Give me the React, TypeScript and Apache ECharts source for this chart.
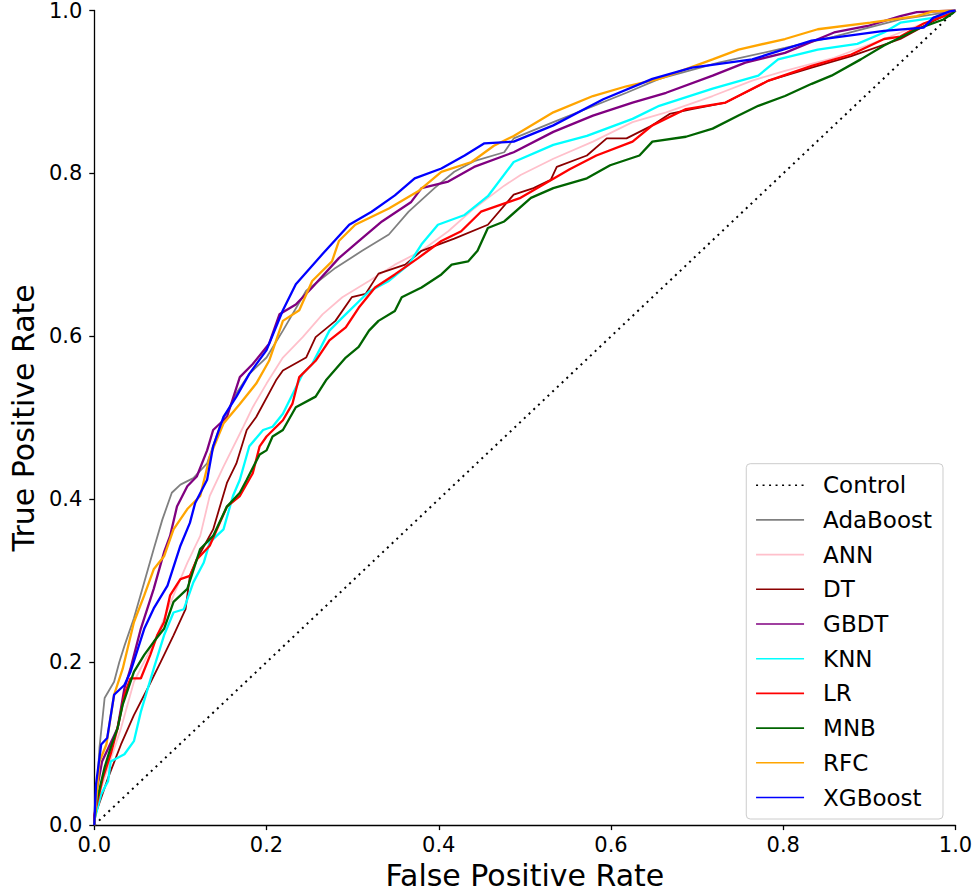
import React, { useEffect, useRef } from "react";
import * as echarts from "echarts";

const controlFpr = [0, 1];
const controlTpr = [0, 1];

const adaFpr = [0, 0.004, 0.006, 0.012, 0.023, 0.029, 0.035, 0.046, 0.058, 0.069, 0.079, 0.09, 0.1, 0.115, 0.131, 0.146, 0.165, 0.18, 0.2, 0.219, 0.246, 0.28, 0.311, 0.342, 0.365, 0.395, 0.418, 0.441, 0.476, 0.487, 0.533, 0.618, 0.656, 0.725, 0.802, 0.859, 0.936, 0.997, 1];
const adaTpr = [0, 0.06, 0.095, 0.156, 0.176, 0.2, 0.22, 0.254, 0.298, 0.339, 0.375, 0.408, 0.418, 0.426, 0.444, 0.49, 0.53, 0.554, 0.574, 0.607, 0.656, 0.684, 0.705, 0.725, 0.753, 0.782, 0.802, 0.815, 0.826, 0.843, 0.863, 0.899, 0.916, 0.936, 0.954, 0.968, 0.989, 0.999, 1];

const annFpr = [0, 0.002, 0.016, 0.031, 0.046, 0.062, 0.073, 0.092, 0.108, 0.123, 0.134, 0.15, 0.173, 0.184, 0.2, 0.219, 0.242, 0.265, 0.288, 0.319, 0.349, 0.38, 0.411, 0.441, 0.476, 0.495, 0.533, 0.579, 0.625, 0.664, 0.718, 0.764, 0.802, 0.859, 0.917, 0.955, 0.993, 1];
const annTpr = [0, 0.026, 0.071, 0.119, 0.176, 0.209, 0.233, 0.282, 0.322, 0.355, 0.404, 0.44, 0.489, 0.513, 0.542, 0.574, 0.599, 0.627, 0.648, 0.668, 0.688, 0.705, 0.729, 0.757, 0.785, 0.798, 0.818, 0.839, 0.863, 0.875, 0.895, 0.914, 0.926, 0.942, 0.965, 0.981, 0.995, 1];

const dtFpr = [0, 0, 0.016, 0.031, 0.046, 0.062, 0.077, 0.092, 0.106, 0.111, 0.119, 0.138, 0.154, 0.165, 0.177, 0.188, 0.211, 0.219, 0.246, 0.257, 0.28, 0.299, 0.315, 0.33, 0.361, 0.38, 0.418, 0.457, 0.487, 0.51, 0.53, 0.537, 0.572, 0.595, 0.618, 0.648, 0.668, 0.694, 0.733, 0.783, 0.833, 0.879, 0.936, 0.974, 1];
const dtTpr = [0, 0.009, 0.058, 0.099, 0.135, 0.168, 0.2, 0.233, 0.265, 0.306, 0.326, 0.363, 0.42, 0.444, 0.485, 0.501, 0.546, 0.558, 0.574, 0.599, 0.619, 0.648, 0.652, 0.677, 0.688, 0.705, 0.72, 0.737, 0.774, 0.782, 0.792, 0.808, 0.822, 0.843, 0.843, 0.859, 0.873, 0.879, 0.887, 0.914, 0.93, 0.944, 0.965, 0.987, 1];

const gbdtFpr = [0, 0.002, 0.009, 0.027, 0.035, 0.042, 0.054, 0.069, 0.081, 0.088, 0.096, 0.108, 0.119, 0.131, 0.138, 0.154, 0.169, 0.184, 0.203, 0.215, 0.234, 0.253, 0.284, 0.307, 0.334, 0.368, 0.38, 0.411, 0.441, 0.487, 0.533, 0.579, 0.625, 0.664, 0.718, 0.756, 0.802, 0.859, 0.898, 0.936, 0.955, 1];
const gbdtTpr = [0, 0.038, 0.078, 0.119, 0.168, 0.192, 0.241, 0.29, 0.335, 0.355, 0.391, 0.416, 0.428, 0.46, 0.485, 0.501, 0.55, 0.566, 0.591, 0.627, 0.639, 0.66, 0.696, 0.717, 0.741, 0.765, 0.782, 0.79, 0.808, 0.826, 0.851, 0.871, 0.887, 0.899, 0.92, 0.936, 0.948, 0.973, 0.981, 0.993, 0.998, 1];

const knnFpr = [0, 0, 0.008, 0.016, 0.019, 0.035, 0.046, 0.054, 0.069, 0.081, 0.092, 0.104, 0.115, 0.127, 0.134, 0.15, 0.161, 0.169, 0.18, 0.196, 0.207, 0.219, 0.242, 0.253, 0.273, 0.288, 0.319, 0.342, 0.365, 0.38, 0.399, 0.43, 0.457, 0.487, 0.533, 0.572, 0.625, 0.656, 0.718, 0.771, 0.794, 0.84, 0.886, 0.917, 0.936, 0.974, 0.997, 1];
const knnTpr = [0, 0.006, 0.038, 0.054, 0.078, 0.087, 0.103, 0.139, 0.192, 0.233, 0.261, 0.265, 0.298, 0.322, 0.347, 0.363, 0.404, 0.424, 0.465, 0.485, 0.489, 0.505, 0.554, 0.566, 0.607, 0.623, 0.655, 0.668, 0.688, 0.713, 0.737, 0.749, 0.772, 0.814, 0.835, 0.846, 0.867, 0.883, 0.904, 0.92, 0.94, 0.952, 0.959, 0.973, 0.985, 0.991, 0.997, 1];

const lrFpr = [0, 0, 0.01, 0.019, 0.027, 0.035, 0.042, 0.054, 0.065, 0.073, 0.081, 0.088, 0.1, 0.111, 0.119, 0.134, 0.154, 0.169, 0.184, 0.192, 0.2, 0.219, 0.23, 0.238, 0.257, 0.273, 0.292, 0.307, 0.326, 0.349, 0.376, 0.403, 0.426, 0.449, 0.495, 0.552, 0.583, 0.625, 0.648, 0.687, 0.733, 0.783, 0.833, 0.879, 0.917, 0.936, 0.963, 0.997, 1];
const lrTpr = [0, 0.012, 0.058, 0.087, 0.119, 0.16, 0.18, 0.18, 0.209, 0.233, 0.249, 0.282, 0.302, 0.306, 0.326, 0.343, 0.391, 0.404, 0.432, 0.465, 0.477, 0.497, 0.517, 0.55, 0.57, 0.595, 0.611, 0.635, 0.66, 0.676, 0.696, 0.717, 0.729, 0.753, 0.77, 0.805, 0.822, 0.839, 0.859, 0.879, 0.887, 0.914, 0.932, 0.946, 0.965, 0.968, 0.984, 0.997, 1];

const mnbFpr = [0, 0.002, 0.012, 0.019, 0.027, 0.033, 0.046, 0.058, 0.069, 0.081, 0.092, 0.108, 0.123, 0.138, 0.154, 0.169, 0.177, 0.192, 0.2, 0.207, 0.219, 0.234, 0.257, 0.269, 0.292, 0.307, 0.319, 0.33, 0.349, 0.357, 0.38, 0.403, 0.415, 0.434, 0.445, 0.457, 0.476, 0.507, 0.533, 0.572, 0.599, 0.633, 0.648, 0.687, 0.718, 0.748, 0.771, 0.802, 0.833, 0.856, 0.89, 0.917, 0.955, 0.986, 0.997, 1];
const mnbTpr = [0, 0.026, 0.071, 0.095, 0.119, 0.148, 0.188, 0.209, 0.225, 0.241, 0.274, 0.29, 0.339, 0.355, 0.391, 0.408, 0.424, 0.455, 0.46, 0.477, 0.485, 0.513, 0.526, 0.546, 0.574, 0.587, 0.607, 0.619, 0.631, 0.648, 0.66, 0.676, 0.688, 0.692, 0.705, 0.733, 0.741, 0.77, 0.782, 0.794, 0.81, 0.822, 0.839, 0.845, 0.855, 0.871, 0.883, 0.895, 0.91, 0.92, 0.94, 0.957, 0.977, 0.989, 0.997, 1];

const rfcFpr = [0, 0.002, 0.006, 0.014, 0.023, 0.033, 0.046, 0.058, 0.069, 0.081, 0.092, 0.108, 0.123, 0.134, 0.15, 0.169, 0.188, 0.203, 0.219, 0.238, 0.253, 0.276, 0.284, 0.303, 0.342, 0.376, 0.403, 0.438, 0.464, 0.487, 0.533, 0.579, 0.618, 0.656, 0.718, 0.748, 0.802, 0.84, 0.901, 0.955, 0.974, 1];
const rfcTpr = [0, 0.026, 0.078, 0.099, 0.16, 0.192, 0.249, 0.282, 0.314, 0.33, 0.363, 0.388, 0.404, 0.452, 0.493, 0.517, 0.542, 0.57, 0.619, 0.632, 0.668, 0.692, 0.717, 0.737, 0.757, 0.778, 0.802, 0.814, 0.834, 0.846, 0.875, 0.895, 0.907, 0.916, 0.94, 0.952, 0.965, 0.977, 0.985, 0.993, 0.999, 1];

const xgbFpr = [0, 0.002, 0.008, 0.015, 0.023, 0.035, 0.042, 0.058, 0.069, 0.085, 0.1, 0.111, 0.117, 0.131, 0.138, 0.15, 0.165, 0.18, 0.2, 0.219, 0.234, 0.265, 0.296, 0.322, 0.349, 0.372, 0.403, 0.43, 0.453, 0.487, 0.533, 0.591, 0.648, 0.694, 0.764, 0.833, 0.917, 0.963, 0.974, 0.993, 1];
const xgbTpr = [0, 0.05, 0.099, 0.107, 0.16, 0.172, 0.188, 0.241, 0.266, 0.294, 0.343, 0.371, 0.395, 0.424, 0.465, 0.501, 0.526, 0.554, 0.583, 0.632, 0.664, 0.701, 0.737, 0.753, 0.773, 0.794, 0.806, 0.822, 0.837, 0.839, 0.859, 0.891, 0.916, 0.93, 0.94, 0.963, 0.975, 0.979, 0.991, 0.999, 1];

const modelNames = ["AdaBoost", "ANN", "DT", "GBDT", "KNN", "LR", "MNB", "RFC", "XGBoost"];
const modelColors = ["#808080", "#FFC0CB", "#8B0000", "#800080", "#00FFFF", "#FF0000", "#006400", "#FFA500", "#0000FF"];
const modelWidths = [1.8, 1.8, 1.8, 2.3, 2.3, 2.3, 2.3, 2.3, 2.3];
const modelFpr = [adaFpr, annFpr, dtFpr, gbdtFpr, knnFpr, lrFpr, mnbFpr, rfcFpr, xgbFpr];
const modelTpr = [adaTpr, annTpr, dtTpr, gbdtTpr, knnTpr, lrTpr, mnbTpr, rfcTpr, xgbTpr];

const zip = (xs: number[], ys: number[]) => xs.map((x, i) => [x, ys[i]]);

const FONT = "DejaVu Sans";

export default function App() {
  const ref = useRef<HTMLDivElement>(null);
  useEffect(() => {
    document.body.style.margin = "0";
    document.body.style.overflow = "hidden";
    if (!ref.current) return;
    const chart = echarts.init(ref.current, null, { renderer: "svg" });
    const series: any[] = [
      {
        name: "Control",
        type: "line",
        data: zip(controlFpr, controlTpr),
        symbol: "none",
        lineStyle: { color: "#000", width: 2, type: [2, 4.5] },
        itemStyle: { color: "#000" },
        z: 2,
      },
      ...modelNames.map((n, i) => ({
        name: n,
        type: "line",
        data: zip(modelFpr[i], modelTpr[i]),
        symbol: "none",
        lineStyle: { color: modelColors[i], width: modelWidths[i] },
        itemStyle: { color: modelColors[i] },
        z: 3 + i,
      })),
    ];
    chart.setOption({
      animation: false,
      backgroundColor: "#fff",
      textStyle: { fontFamily: FONT },
      grid: { left: 86.5, right: 20.5, top: 10.5, bottom: 64, containLabel: false },
      xAxis: {
        type: "value",
        min: 0,
        max: 1,
        interval: 0.2,
        name: "False Positive Rate",
        nameLocation: "middle",
        nameGap: 33,
        nameTextStyle: { fontSize: 30, color: "#000", fontFamily: FONT },
        axisLine: { lineStyle: { color: "#000", width: 1.3 } },
        axisTick: { length: 5, lineStyle: { color: "#000", width: 1.3 } },
        axisLabel: {
          fontSize: 21,
          color: "#000",
          margin: 9,
          fontFamily: FONT,
          formatter: (v: number) => v.toFixed(1),
        },
        splitLine: { show: false },
      },
      yAxis: {
        type: "value",
        min: 0,
        max: 1,
        interval: 0.2,
        name: "True Positive Rate",
        nameLocation: "middle",
        nameGap: 52,
        nameTextStyle: { fontSize: 30, color: "#000", fontFamily: FONT },
        axisLine: { show: true, lineStyle: { color: "#000", width: 1.3 } },
        axisTick: { show: true, length: 5, lineStyle: { color: "#000", width: 1.3 } },
        axisLabel: {
          fontSize: 21,
          color: "#000",
          margin: 12,
          fontFamily: FONT,
          formatter: (v: number) => v.toFixed(1),
        },
        splitLine: { show: false },
      },
      legend: {
        orient: "vertical",
        right: 33,
        bottom: 76,
        padding: [10, 11, 10, 9],
        itemWidth: 48,
        itemHeight: 14,
        itemGap: 11.7,
        backgroundColor: "rgba(255,255,255,0.8)",
        borderColor: "#cccccc",
        borderWidth: 1,
        borderRadius: 4,
        itemStyle: { opacity: 0 },
        lineStyle: { width: 1.6 },
        textStyle: { fontSize: 23, color: "#000", fontFamily: FONT, padding: [0, 0, 0, 14], lineHeight: 20 },
        data: ["Control", ...modelNames],
      },
      series,
    });
    return () => chart.dispose();
  }, []);
  return <div ref={ref} style={{ width: 976, height: 895 }} />;
}
